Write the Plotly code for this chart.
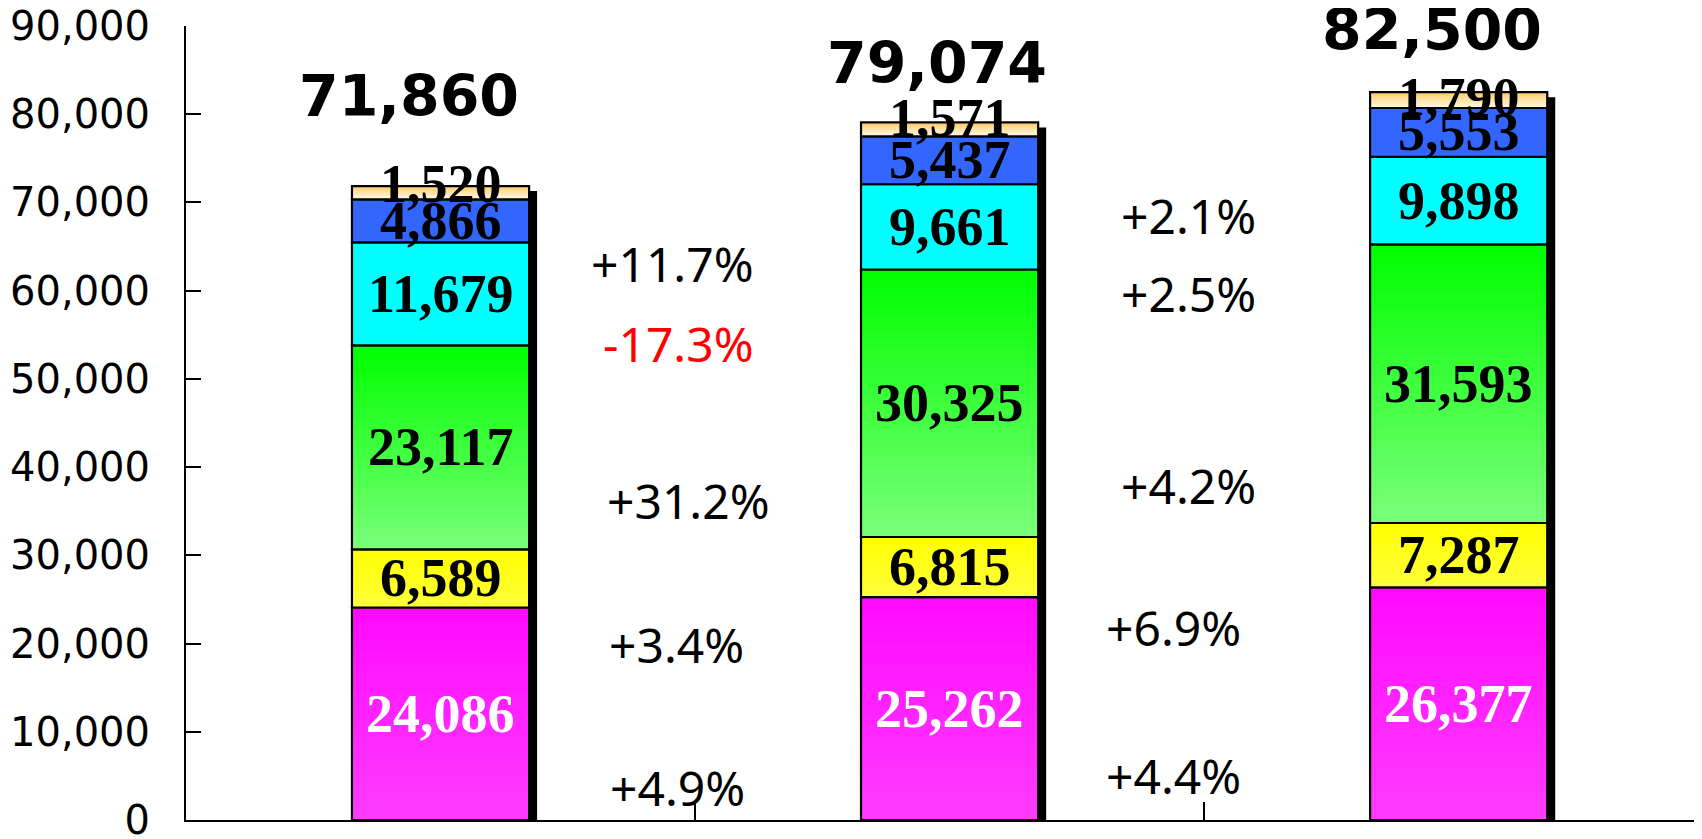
import plotly.graph_objects as go

# ---------------- data ----------------
categories = ["FY1", "FY2", "FY3"]
magenta = [24086, 25262, 26377]
yellow = [6589, 6815, 7287]
green = [23117, 30325, 31593]
cyan = [11679, 9661, 9898]
blue = [4866, 5437, 5553]
cream = [1520, 1571, 1790]
totals = [71860, 79074, 82500]
growth_1_2 = ["+4.9%", "+3.4%", "+31.2%", "-17.3%", "+11.7%"]
growth_2_3 = ["+4.4%", "+6.9%", "+4.2%", "+2.5%", "+2.1%"]
y_tick_vals = [0, 10000, 20000, 30000, 40000, 50000, 60000, 70000, 80000, 90000]
y_tick_text = ["0", "10,000", "20,000", "30,000", "40,000", "50,000",
               "60,000", "70,000", "80,000", "90,000"]

# ---------------- style / layout ----------------
segments = [
    # values, top colour, bottom colour, label colour, label pixel shift per bar
    (magenta, (255, 10, 255), (255, 60, 255), "white", [0, 0, 0]),
    (yellow, (255, 255, 0), (255, 255, 60), "black", [0, 0, 0]),
    (green, (0, 255, 0), (122, 255, 122), "black", [0, 0, 0]),
    (cyan, (0, 255, 255), (0, 255, 255), "black", [0, 0, 0]),
    (blue, (51, 102, 255), (51, 102, 255), "black", [0, 0, 0]),
    (cream, (255, 204, 102), (255, 250, 236), "black", [9, 11, 3]),
]
W = 0.348
NS = 30
shadow_dx = 0.0157
shadow_dy = 567

# label placement (annotation positions, in axis units)
total_pos = [(-0.062, 82100), (0.975, 85800), (1.948, 89540)]
pos_1_2 = [(0.465, 3700), (0.463, 19900), (0.488, 36240), (0.468, 54040), (0.455, 63120)]
pos_2_3 = [(1.439, 5100), (1.439, 21830), (1.470, 37950), (1.470, 59720), (1.470, 68570)]

fig = go.Figure()

sums = [sum(s[0][i] for s in segments) for i in range(len(categories))]

# shadow
fig.add_trace(go.Bar(
    x=categories, y=[s - shadow_dy for s in sums], base=[0] * len(categories),
    width=W, offset=-W / 2 + shadow_dx,
    marker=dict(color="black", line=dict(width=0)),
    hoverinfo="skip", showlegend=False))

annotations = []
base = [0] * len(categories)
for vals, top, bot, tcol, shifts in segments:
    n = NS if top != bot else 1
    for k in range(n):
        t = (k + 0.5) / n
        c = tuple(round(bot[j] + (top[j] - bot[j]) * t) for j in range(3))
        # each slice runs from its own start up to the segment top (overlapping, no seams)
        fig.add_trace(go.Bar(
            x=categories, y=[v * (n - k) / n for v in vals],
            base=[b + v * k / n for b, v in zip(base, vals)],
            width=W, offset=-W / 2,
            marker=dict(color="rgb(%d,%d,%d)" % c, line=dict(width=0)),
            hoverinfo="skip", showlegend=False))
    # outline
    fig.add_trace(go.Bar(
        x=categories, y=vals, base=list(base), width=W, offset=-W / 2,
        marker=dict(color="rgba(0,0,0,0)", line=dict(width=2.2, color="black")),
        hoverinfo="skip", showlegend=False))
    for i, (b, v) in enumerate(zip(base, vals)):
        annotations.append(dict(
            x=i, y=b + v / 2, xref="x", yref="y", text=f"{v:,}", showarrow=False,
            yshift=shifts[i],
            font=dict(family="Liberation Serif", size=54, color=tcol, weight="bold"),
            xanchor="center", yanchor="middle"))
    base = [b + v for b, v in zip(base, vals)]

for (x, y), t in zip(total_pos, totals):
    annotations.append(dict(
        x=x, y=y, xref="x", yref="y", text=f"{t:,}", showarrow=False,
        font=dict(family="DejaVu Sans", size=57, color="black", weight="bold"),
        xanchor="center", yanchor="middle"))

for labels, positions in ((growth_1_2, pos_1_2), (growth_2_3, pos_2_3)):
    for txt, (x, y) in zip(labels, positions):
        annotations.append(dict(
            x=x, y=y, xref="x", yref="y", text=txt, showarrow=False,
            font=dict(family="Noto Sans", size=48,
                      color="red" if txt.startswith("-") else "black"),
            xanchor="center", yanchor="middle"))

# the page body adds an 8px margin, so the figure is 8px smaller on each side
fig.update_layout(
    width=1694, height=831,
    margin=dict(l=178, r=0, t=18, b=19, autoexpand=False),
    barmode="overlay",
    plot_bgcolor="white", paper_bgcolor="white",
    showlegend=False,
    annotations=annotations,
    xaxis=dict(
        type="category", range=[-0.5, 2.478], showgrid=False, zeroline=False,
        showline=True, linecolor="black", linewidth=2, automargin=False,
        ticks="inside", tickson="boundaries", ticklen=18, tickwidth=2, tickcolor="black",
        showticklabels=False, fixedrange=True),
    yaxis=dict(
        range=[0, 90000], showgrid=False, zeroline=False,
        showline=True, linecolor="black", linewidth=2, automargin=False,
        ticks="inside", ticklen=15, tickwidth=2, tickcolor="black",
        tickvals=y_tick_vals, ticktext=y_tick_text, ticklabelstandoff=26,
        ticklabeloverflow="allow",
        tickfont=dict(family="DejaVu Sans", size=40, color="black"),
        fixedrange=True),
)

fig.write_html("out.html")
